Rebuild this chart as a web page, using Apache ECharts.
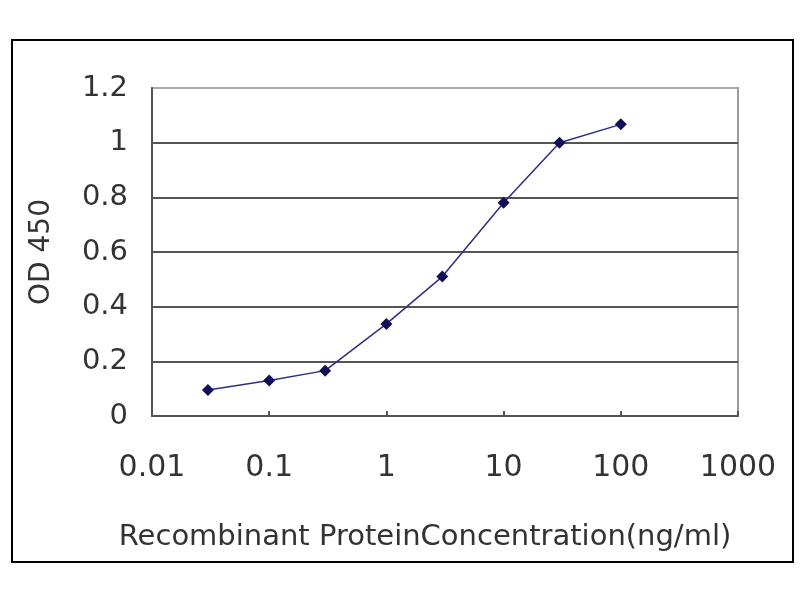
<!DOCTYPE html>
<html><head><meta charset="utf-8">
<script src="https://cdn.jsdelivr.net/npm/echarts@6/dist/echarts.min.js"></script>
<style>html,body{margin:0;padding:0;background:#fff}#c{width:800px;height:600px}</style>
</head><body><div id="c"></div>
<script>
const concentrations = [0.03, 0.1, 0.3, 1, 3, 10, 30, 100];
const od450 = [0.095, 0.13, 0.166, 0.337, 0.51, 0.78, 1.0, 1.067];
const xTitle = 'Recombinant ProteinConcentration(ng/ml)';
const yTitle = 'OD 450';

const chart = echarts.init(document.getElementById('c'));
const font = 'DejaVu Sans, sans-serif';
chart.setOption({
  backgroundColor: '#fff',
  animation: false,
  graphic: [{
    type: 'rect', shape: {x: 12, y: 40, width: 781, height: 522},
    style: {fill: 'none', stroke: '#000', lineWidth: 2}, z: 100
  }],
  grid: {left: 152, right: 62, top: 88, bottom: 184, show: true, borderColor: '#9a9a9a', borderWidth: 2},
  xAxis: {
    type: 'log', logBase: 10, min: 0.01, max: 1000,
    name: xTitle, nameLocation: 'middle', nameGap: 107,
    nameTextStyle: {fontFamily: font, fontSize: 29, color: '#333', padding: [0, 40, 0, 0]},
    axisLine: {lineStyle: {color: '#555', width: 2}},
    axisTick: {show: true, inside: true, length: 5, lineStyle: {color: '#555', width: 2}},
    axisLabel: {fontFamily: font, fontSize: 30, color: '#333', margin: 37,
      formatter: v => String(v)},
    splitLine: {show: false}, minorTick: {show: false}
  },
  yAxis: {
    type: 'value', min: 0, max: 1.2, interval: 0.2,
    name: yTitle, nameLocation: 'middle', nameGap: 96, nameRotate: 90,
    nameTextStyle: {fontFamily: font, fontSize: 28, color: '#333'},
    axisLine: {show: true, lineStyle: {color: '#555', width: 2}},
    axisTick: {show: false},
    axisLabel: {fontFamily: font, fontSize: 29, color: '#333', margin: 24,
      formatter: v => String(Math.round(v * 10) / 10)},
    splitLine: {show: true, lineStyle: {color: ['#555','#555','#555','#555','#555','#555','#aaa'], width: 2}}
  },
  series: [{
    type: 'line',
    data: concentrations.map((c, i) => [c, od450[i]]),
    symbol: 'diamond', symbolSize: 12,
    lineStyle: {color: '#2e2e80', width: 1.5},
    itemStyle: {color: '#10105a'}
  }]
});
</script></body></html>
